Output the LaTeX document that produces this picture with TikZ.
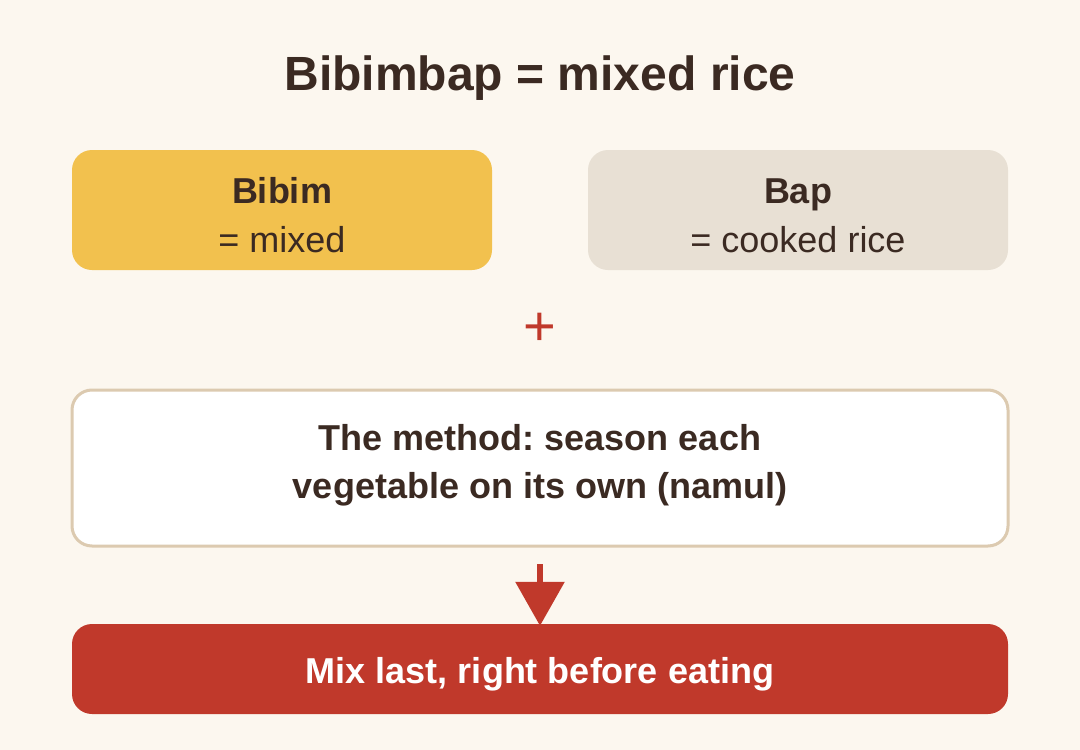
\documentclass[tikz,border=0pt]{standalone}
\usepackage{fontspec}
\setmainfont{Liberation Sans}
\usetikzlibrary{arrows.meta}
\frenchspacing
\definecolor{bgc}{HTML}{FCF7EF}
\definecolor{yel}{HTML}{F2C14E}
\definecolor{beig}{HTML}{E8E0D4}
\definecolor{redc}{HTML}{C0392B}
\definecolor{ink}{HTML}{3B2A22}
\definecolor{edge}{HTML}{DCCAB0}
\tikzset{
  box/.style={rounded corners=20pt, draw=none},
  txt/.style={anchor=base, inner sep=0pt, text=ink, font=\fontsize{36}{48}\selectfont},
  btxt/.style={txt, font=\fontsize{36}{48}\selectfont\bfseries},
}
\begin{document}
\begin{tikzpicture}[x=1pt,y=-1pt]
\fill[bgc] (0,0) rectangle (1080,750);
\useasboundingbox (0,0) rectangle (1080,750);
% title
\node[btxt, font=\fontsize{48}{58}\selectfont\bfseries] (title) at (540,90) {Bibimbap = mixed rice};
% top boxes
\path[box, fill=yel] (72,150) rectangle (492,270);
\node[inner sep=0pt, minimum width=420pt, minimum height=120pt] (bibim) at (282,210) {};
\node[btxt] (bibimt) at (282,203) {Bibim};
\node[txt] (bibimm) at (282,252) {= mixed};
\path[box, fill=beig] (588,150) rectangle (1008,270);
\node[inner sep=0pt, minimum width=420pt, minimum height=120pt] (bap) at (798,210) {};
\node[btxt] (bapt) at (798,203) {Bap};
\node[txt] (bapm) at (798,252) {= cooked rice};
% plus
\node[anchor=base, inner sep=0pt, text=redc, font=\fontsize{56}{60}\selectfont] (plus) at (540,345) {+};
% method box
\draw[rounded corners=20pt, draw=edge, line width=3pt, fill=white] (72,390) rectangle (1008,546);
\node[inner sep=0pt, minimum width=936pt, minimum height=156pt] (method) at (540,468) {};
\node[btxt] (m1) at (540,450) {The method: season each};
\node[btxt] (m2) at (540,498) {vegetable on its own (namul)};
% bottom box
\path[box, fill=redc] (72,624) rectangle (1008,714);
\node[inner sep=0pt, minimum width=936pt, minimum height=90pt] (mix) at (540,669) {};
\node[btxt, text=white] (mixt) at (540,683) {Mix last, right before eating};
% arrow
\coordinate (astart) at (540,564);
\draw[redc, line width=6pt, -{Triangle[width=48pt,length=44pt]}] (astart) -- ([yshift=-2pt]mix.north);
\end{tikzpicture}
\end{document}
